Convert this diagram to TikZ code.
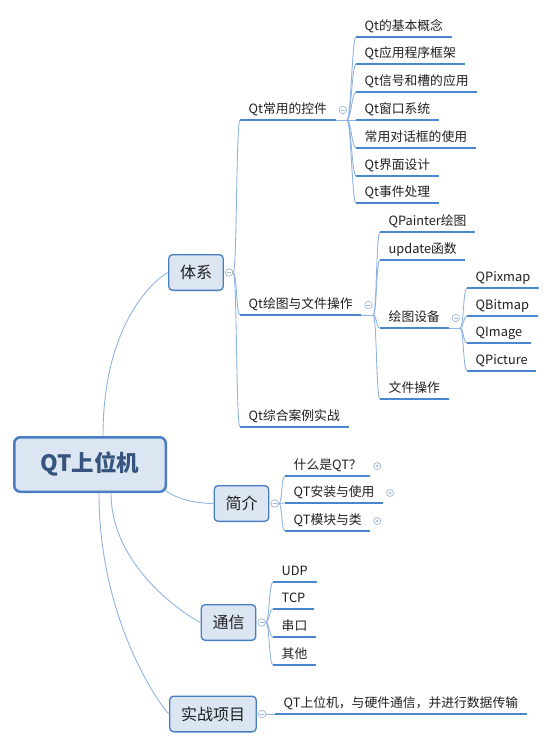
\documentclass[tikz,border=0pt]{standalone}
\usepackage{fontspec}
\setmainfont{Noto Sans CJK SC}
\usetikzlibrary{positioning}
\definecolor{boxfill}{HTML}{DCE6F2}
\definecolor{boxline}{HTML}{4A7EC4}
\definecolor{ulinec}{HTML}{4A86D0}
\definecolor{linkc}{HTML}{8EB4E3}
\definecolor{foldc}{HTML}{9DB6D6}
\definecolor{rootc}{HTML}{36547E}
\definecolor{txtc}{HTML}{1F1F1F}

\begin{document}
\begin{tikzpicture}[x=1pt, y=-1pt,
    root/.style={draw=boxline, line width=2.5pt, fill=boxfill, rounded corners=6pt,
      minimum width=151.5pt, minimum height=54.5pt, text=rootc,
      font=\fontsize{22.5}{22.5}\selectfont\bfseries},
    branch/.style={draw=boxline, line width=1.3pt, fill=boxfill, rounded corners=4pt,
      minimum height=35.7pt, inner xsep=11.3pt, inner ysep=0pt, text=txtc,
      font=\fontsize{16}{16}\selectfont},
    item/.style={anchor=south west, inner xsep=8.5pt, inner ysep=3.5pt,
      text height=9.5pt, text depth=3pt, text=txtc,
      font=\fontsize{12.8}{14}\selectfont},
    uline/.style={draw=ulinec, line width=2pt},
    link/.style={draw=linkc, line width=0.9pt,
      to path={.. controls +(4,0) and +(-4,0) .. (\tikztotarget)}},
    fold/.style={circle, draw=foldc, fill=white, line width=0.7pt, minimum size=7.5pt,
      inner sep=0pt, path picture={\draw[foldc, line width=0.7pt]
        ([xshift=-2pt]path picture bounding box.center) --
        ([xshift=2pt]path picture bounding box.center);}},
    unfold/.style={circle, draw=foldc, fill=white, line width=0.7pt, minimum size=7pt,
      inner sep=0pt, path picture={\fill[foldc]
        (path picture bounding box.center) circle (1.3pt);}}]
    \useasboundingbox (0,0) rectangle (554,745);

    % main topic and its four branches
    \node[root] (root) at (90,464.5) {QT上位机};
    \node[branch] (tixi) at (196,272.5) {体系};
    \node[branch] (intro) at (241.5,503.5) {简介};
    \node[branch] (comm) at (228.5,622.5) {通信};
    \node[branch] (proj) at (213,714) {实战项目};
    \draw[link] ([xshift=13pt]root.north) .. controls +(0,-125) and +(-2,0) .. (tixi.west);
    \draw[link] ([xshift=-2pt,yshift=3pt]root.south east) .. controls +(12,10) and +(-15,0) .. (intro.west);
    \draw[link] ([xshift=21pt]root.south) .. controls +(0,80) and +(-2,0) .. (comm.west);
    \draw[link] ([xshift=9pt]root.south) .. controls +(0,135) and +(-2,0) .. (proj.west);
    \foreach \br in {tixi, intro, comm, proj}
        \node[fold, right=1pt of \br] (\br-f) {};

    % 体系
    \foreach \idx/\y/\txt in {1/120/Qt常用的控件, 2/315/Qt绘图与文件操作, 3/427/Qt综合案例实战} {
        \node[item] (sys-\idx) at (240,\y) {\txt};
        \draw[uline] (sys-\idx.south west) -- (sys-\idx.south east);
        \draw[link] (tixi-f.east) to (sys-\idx.south west);
    }
    \node[fold, right=3pt of sys-1] (sys-1-f) {};
    \node[fold, right=3pt of sys-2] (sys-2-f) {};
    \coordinate (sys-1-j) at (347,120);
    \coordinate (sys-2-j) at (373,315);
    \draw[link] (sys-1.south east) -- (sys-1-j);
    \draw[link] (sys-2.south east) -- (sys-2-j);

    \foreach \idx/\y/\txt in {1/37/Qt的基本概念, 2/64/Qt应用程序框架, 3/92/Qt信号和槽的应用,
            4/120/Qt窗口系统, 5/148/常用对话框的使用, 6/176/Qt界面设计, 7/203/Qt事件处理} {
        \node[item] (ctl-\idx) at (356,\y) {\txt};
        \draw[uline] (ctl-\idx.south west) -- (ctl-\idx.south east);
        \draw[link] (sys-1-j) to (ctl-\idx.south west);
    }
    \foreach \idx/\y/\txt in {1/232/QPainter绘图, 2/260/update函数, 3/328/绘图设备, 4/399/文件操作} {
        \node[item] (drw-\idx) at (380,\y) {\txt};
        \draw[uline] (drw-\idx.south west) -- (drw-\idx.south east);
        \draw[link] (sys-2-j) to (drw-\idx.south west);
    }
    \node[fold, right=3pt of drw-3] (drw-3-f) {};
    \coordinate (drw-3-j) at (460,328);
    \draw[link] (drw-3.south east) -- (drw-3-j);
    \foreach \idx/\y/\txt in {1/288/QPixmap, 2/316/QBitmap, 3/343/QImage, 4/371/QPicture} {
        \node[item] (dev-\idx) at (467,\y) {\txt};
        \draw[uline] (dev-\idx.south west) -- (dev-\idx.south east);
        \draw[link] (drw-3-j) to (dev-\idx.south west);
    }

    % 简介
    \foreach \idx/\y/\txt in {1/476/什么是QT？, 2/503/QT安装与使用, 3/531/QT模块与类} {
        \node[item] (intro-\idx) at (285,\y) {\txt};
        \draw[uline] (intro-\idx.south west) -- (intro-\idx.south east);
        \draw[link] (intro-f.east) to (intro-\idx.south west);
        \node[unfold, right=3pt of intro-\idx] (intro-\idx-m) {};
    }

    % 通信
    \foreach \idx/\y/\txt in {1/582/UDP, 2/609/TCP, 3/637/串口, 4/665/其他} {
        \node[item] (comm-\idx) at (273,\y) {\txt};
        \draw[uline] (comm-\idx.south west) -- (comm-\idx.south east);
        \draw[link] (comm-f.east) to (comm-\idx.south west);
    }

    % 实战项目
    \node[item] (proj-1) at (275,714) {QT上位机，与硬件通信，并进行数据传输};
    \draw[uline] (proj-1.south west) -- (proj-1.south east);
    \draw[link] (proj-f.east) -- (proj-1.south west);
\end{tikzpicture}
\end{document}
